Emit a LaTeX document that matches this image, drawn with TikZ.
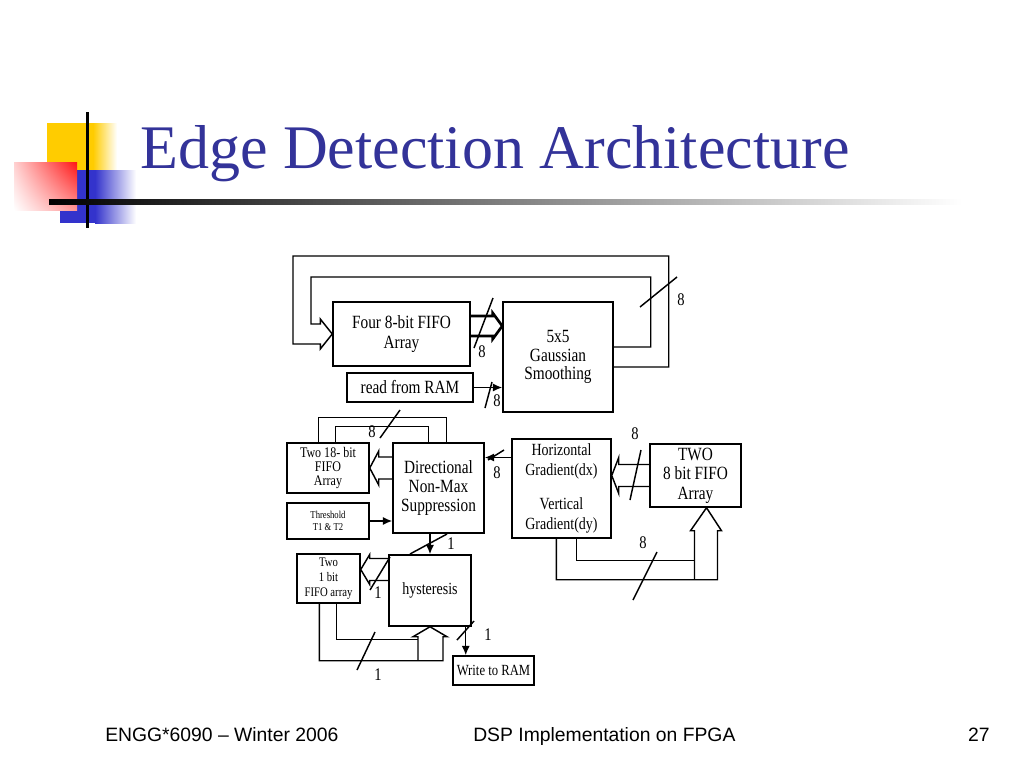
\documentclass[tikz,border=0pt]{standalone}
\usepackage{fontspec}
\setmainfont{Liberation Serif}
\newfontfamily\diagfont[FakeStretch=0.82]{Liberation Serif}
\newfontfamily\footfont{Liberation Sans}
\usetikzlibrary{calc,arrows.meta,shadings}

\definecolor{titleblue}{RGB}{51,51,153}
\definecolor{decoyellow}{RGB}{255,204,0}
\definecolor{decored}{RGB}{255,20,20}
\definecolor{decoblue}{RGB}{51,51,204}

\tikzset{
  blk/.style={draw,line width=1.1pt,inner sep=0pt,align=center},
  wire/.style={line width=1.1pt},
  bigwire/.style={line width=2pt},
  sig/.style={wire,-{Latex[length=7pt,width=6pt]}},
  buslbl/.style={inner sep=0pt,font=\diagfont\fontsize{13.3}{13.3}\selectfont},
}

% box from corner (x1,y1) to (x2,y2), in pixels
\newcommand{\edbox}[7]{%
  \node[blk,font=\diagfont#6,minimum width={(#4-#2)*0.75pt},minimum height={(#5-#3)*0.75pt}]
    (#1) at ({(#2+#4)/2},{(#3+#5)/2}) {#7};}

\begin{document}
\begin{tikzpicture}[x=0.75pt,y=-0.75pt]
  \useasboundingbox (0,0) rectangle (1024,768);
  \fill[white] (0,0) rectangle (1024,768);

  % title decoration
  \fill[decoyellow] (47,123) rectangle (93,172);
  \shade[left color=decoyellow,right color=white] (93,123) rectangle (117,172);
  \fill[decoblue] (60,170) rectangle (95,223);
  \shade[left color=decoblue,right color=white] (95,170) rectangle (136,223);
  \shade[upper right=decored,upper left=decored!20,lower right=decored!45,lower left=white]
    (14,162) rectangle (77,210);
  \draw[line width=2.25pt] (87,112) -- (87,228);
  \shade[left color=black,right color=white] (49,199) rectangle (962,204);

  \node[anchor=base west,inner sep=0pt,text=titleblue,font=\fontsize{46.5}{46.5}\selectfont]
    (title) at (140,168) {Edge Detection Architecture};

  % blocks
  \edbox{fifo4}{333}{302}{470}{366}{\fontsize{14}{15}\selectfont}{Four 8-bit FIFO\\Array}
  \edbox{gauss}{503}{302}{613}{412}{\fontsize{14}{14}\selectfont}{5x5\\Gaussian\\Smoothing}
  \edbox{ram}{347}{373}{473}{402}{\fontsize{14}{14}\selectfont}{read from RAM}
  \edbox{two18}{287}{443}{369}{493}{\fontsize{11}{10.5}\selectfont}{Two 18- bit\\FIFO\\Array}
  \edbox{thr}{287}{503}{369}{539}{\fontsize{7.9}{9.5}\selectfont}{Threshold\\T1 \& T2}
  \edbox{dnms}{393}{443}{484}{533}{\fontsize{14}{14.6}\selectfont}{Directional\\Non-Max\\Suppression}
  \edbox{grad}{512}{439}{611}{538}{\fontsize{12.8}{15}\selectfont}{Horizontal\\Gradient(dx)\\[11pt]Vertical\\Gradient(dy)}
  \edbox{two8}{650}{444}{741}{507}{\fontsize{14}{14.6}\selectfont}{TWO\\8 bit FIFO\\Array}
  \edbox{hyst}{389}{555}{471}{626}{\fontsize{12.8}{13}\selectfont}{hysteresis}
  \edbox{two1}{297}{554}{360}{603}{\fontsize{9.8}{11}\selectfont}{Two\\1 bit\\FIFO array}
  \edbox{wram}{453}{656}{534}{685}{\fontsize{11.6}{12}\selectfont}{Write to RAM}

  % feedback round the smoothing stage
  \draw[wire] ($(gauss.east)+(0,10)$) -- ++(55,0) |- (293,256) |- ($(fifo4.west)+(-12,10)$)
    -- ++(0,5) -- (fifo4.west) -- ++(-12,-15) -- ++(0,5) -| (311,277)
    -| ($(gauss.east)+(37,-10)$) -- ($(gauss.east)+(0,-10)$);
  \coordinate (fg) at ($(fifo4.east)+(0,-8)$);
  \draw[bigwire] ($(fg)+(0,-10)$) -- ($(fg)+(22,-10)$) -- ($(fg)+(22,-13)$) -- (fg -| gauss.west)
    -- ($(fg)+(22,13)$) -- ($(fg)+(22,10)$) -- ($(fg)+(0,10)$);
  \draw[sig] (ram.east) -- (ram.east -| gauss.west);

  % non-max suppression
  \draw[wire] ($(two18.north west)+(32,0)$) |- ($(dnms.north west)+(54,-25)$) -- ($(dnms.north west)+(54,0)$);
  \draw[wire] ($(two18.north west)+(49,0)$) |- ($(dnms.north west)+(36,-16)$) -- ($(dnms.north west)+(36,0)$);
  \draw[wire] ($(two18.east -| dnms.west)+(0,-11)$) -- ($(two18.east)+(9,-11)$) -- ++(0,-6)
    -- (two18.east) -- ($(two18.east)+(9,17)$) -- ++(0,-6) -- ($(two18.east -| dnms.west)+(0,11)$);
  \draw[sig] (thr.east) -- (thr.east -| dnms.west);
  \draw[sig] ($(grad.west)+(0,-31)$) -- ($(grad.west -| dnms.east)+(0,-31)$);

  % gradient stage
  \draw[wire] ($(two8.west)+(0,-11)$) -- ($(two8.west -| grad.east)+(7,-11)$) -- ++(0,-7)
    -- (two8.west -| grad.east) -- ($(two8.west -| grad.east)+(7,18)$) -- ++(0,-7) -- ($(two8.west)+(0,11)$);
  \draw[wire] ($(grad.south west)+(45,0)$) |- ($(two8.south)+(22,72)$) -- ($(two8.south)+(22,23)$)
    -- ++(4,0) -- ($(two8.south)+(11,0)$) -- ($(two8.south)+(-5,23)$) -- ++(4,0) -- ($(two8.south)+(-1,72)$);
  \draw[wire] ($(grad.south west)+(65,0)$) |- ($(two8.south)+(-1,53)$);

  % hysteresis
  \draw[sig] (hyst.north |- dnms.south) -- (hyst.north);
  \coordinate (ht) at ($(two1.east)+(0,-9)$);
  \draw[wire] ($(ht -| hyst.west)+(0,-11)$) -- ($(ht)+(9,-11)$) -- ++(0,-4) -- (ht)
    -- ($(ht)+(9,15)$) -- ++(0,-4) -- ($(ht -| hyst.west)+(0,11)$);
  \draw[wire] ($(two1.south west)+(23,0)$) |- ($(hyst.south)+(13,34)$) -- ($(hyst.south)+(13,10)$)
    -- ++(4,0) -- (hyst.south) -- ($(hyst.south)+(-17,10)$) -- ++(5,0) -- ($(hyst.south)+(-12,34)$);
  \draw[wire] ($(two1.south west)+(40,0)$) |- ($(hyst.south)+(-12,13)$);
  \coordinate (hw) at ($(hyst.south east)+(-6,0)$);
  \draw[sig] (hw) -- (hw |- wram.north);

  % bus width marks
  \draw[wire] (474,348) -- (493,298);
  \draw[wire] (485,408) -- (492,382);
  \draw[wire] (640,307) -- (677,277);
  \draw[wire] (380,438) -- (400,410);
  \draw[wire] (488,460) -- (504,450);
  \draw[wire] (630,500) -- (641,450);
  \draw[wire] (633,600) -- (657,552);
  \draw[wire] (410,554) -- (447,534);
  \draw[wire] (370,590) -- (390,557);
  \draw[wire] (357,670) -- (375,632);
  \draw[wire] (457,640) -- (474,621);
  \node[buslbl] (w1) at (482,352) {8};
  \node[buslbl] (w2) at (497,401) {8};
  \node[buslbl] (w3) at (681,300) {8};
  \node[buslbl] (w4) at (372,432) {8};
  \node[buslbl] (w5) at (497,473) {8};
  \node[buslbl] (w6) at (635,434) {8};
  \node[buslbl] (w7) at (643,543) {8};
  \node[buslbl] (w8) at (451,544) {1};
  \node[buslbl] (w9) at (378,593) {1};
  \node[buslbl] (w10) at (378,675) {1};
  \node[buslbl] (w11) at (488,635) {1};

  % footer
  \node[anchor=base west,inner sep=0pt,font=\footfont\fontsize{14.5}{14.5}\selectfont]
    (footl) at (105,741) {ENGG*6090 – Winter 2006};
  \node[anchor=base west,inner sep=0pt,font=\footfont\fontsize{14.5}{14.5}\selectfont]
    (footc) at (473,741) {DSP Implementation on FPGA};
  \node[anchor=base east,inner sep=0pt,font=\footfont\fontsize{14.5}{14.5}\selectfont]
    (footr) at (990,741) {27};
\end{tikzpicture}
\end{document}
